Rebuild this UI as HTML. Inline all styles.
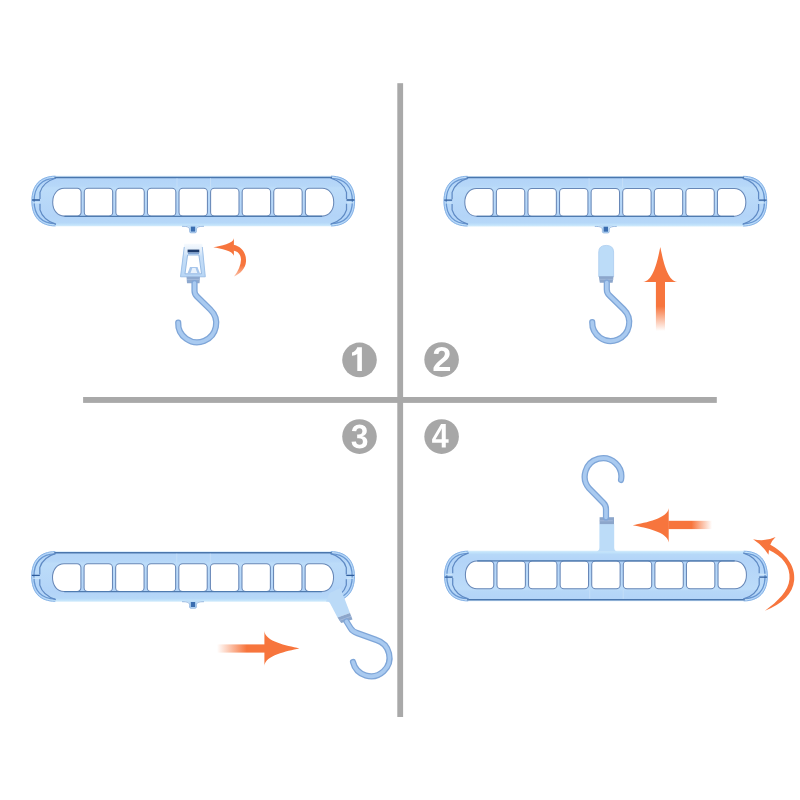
<!DOCTYPE html>
<html><head><meta charset="utf-8">
<style>
html,body{margin:0;padding:0;background:#fff;width:800px;height:800px;overflow:hidden}
svg{display:block}
</style></head>
<body>
<svg width="800" height="800" viewBox="0 0 800 800">
<defs>
  <linearGradient id="bodyG" gradientUnits="userSpaceOnUse" x1="0" y1="0" x2="0" y2="50.5">
    <stop offset="0" stop-color="#d8ecfb"/>
    <stop offset="0.02" stop-color="#cfe6fa"/>
    <stop offset="0.05" stop-color="#b3d4f8"/>
    <stop offset="0.2" stop-color="#b6d7f8"/>
    <stop offset="0.24" stop-color="#bcdcf9"/>
    <stop offset="0.8" stop-color="#b3d4f8"/>
    <stop offset="0.93" stop-color="#b6d8f8"/>
    <stop offset="0.97" stop-color="#c2e3fb"/>
    <stop offset="1" stop-color="#d4ecfb"/>
  </linearGradient>
  <linearGradient id="fadeR" x1="0" y1="0" x2="1" y2="0">
    <stop offset="0" stop-color="#f7753d" stop-opacity="0"/>
    <stop offset="0.62" stop-color="#f7753d" stop-opacity="1"/>
  </linearGradient>
  <linearGradient id="fadeL" x1="1" y1="0" x2="0" y2="0">
    <stop offset="0" stop-color="#f7753d" stop-opacity="0"/>
    <stop offset="0.47" stop-color="#f7753d" stop-opacity="1"/>
  </linearGradient>
  <linearGradient id="fadeU" x1="0" y1="1" x2="0" y2="0">
    <stop offset="0" stop-color="#f7753d" stop-opacity="0"/>
    <stop offset="0.5" stop-color="#f7753d" stop-opacity="1"/>
  </linearGradient>
  <linearGradient id="tailG1" x1="0" y1="0" x2="0" y2="1">
    <stop offset="0.65" stop-color="#f7753d" stop-opacity="1"/>
    <stop offset="1" stop-color="#f7753d" stop-opacity="0.45"/>
  </linearGradient>
  <linearGradient id="tailG4" x1="0" y1="0" x2="0" y2="1">
    <stop offset="0.6" stop-color="#f7753d" stop-opacity="1"/>
    <stop offset="1" stop-color="#f7753d" stop-opacity="0.3"/>
  </linearGradient>
  <linearGradient id="clipTop" x1="0" y1="0" x2="0" y2="1">
    <stop offset="0" stop-color="#f6fafe"/>
    <stop offset="0.2" stop-color="#e2eefb"/>
    <stop offset="0.4" stop-color="#c4ddf7"/>
    <stop offset="1" stop-color="#b8d6f5"/>
  </linearGradient>
  
    <path d="M35,40.2 H289" stroke="#6690ca" stroke-width="1.1" fill="none"/>
    <path d="M145.5,1.5 V11.5 M179,1.5 V11.5" stroke="#c3dcf7" stroke-width="0.8"/>
  </g>
  
</defs>

<!-- divider lines -->
<rect x="397.3" y="83.2" width="5.8" height="633.8" fill="#a9a9a9"/>
<rect x="83.1" y="397" width="633.7" height="5.9" fill="#a9a9a9"/>

<!-- number circles -->
<g fill="#a7a7a7">
  <circle cx="359.5" cy="359.9" r="17.3"/>
  <circle cx="441.6" cy="359.6" r="17.3"/>
  <circle cx="359.5" cy="436.6" r="17.3"/>
  <circle cx="441.6" cy="436.6" r="17.3"/>
</g>
<g fill="#fff">
  <path d="M357.3,347.2 H361.9 V370.9 H357.3 V353.9 C355.9,354.8 354.1,355.4 352,355.8 V352.5 C354.5,351.7 356.5,349.8 357.3,347.2 Z"/>
  <path d="M433.5 371V367.73Q434.42 365.7 436.13 363.77Q437.83 361.84 440.41 359.74Q442.9 357.73 443.9 356.42Q444.89 355.11 444.89 353.85Q444.89 350.76 441.79 350.76Q440.28 350.76 439.48 351.58Q438.69 352.39 438.45 354.02L433.7 353.75Q434.1 350.46 436.16 348.73Q438.22 347 441.76 347Q445.58 347 447.63 348.75Q449.68 350.49 449.68 353.65Q449.68 355.31 449.02 356.65Q448.37 358 447.34 359.13Q446.32 360.26 445.07 361.25Q443.82 362.24 442.65 363.18Q441.47 364.12 440.51 365.08Q439.54 366.03 439.07 367.12H450.05V371Z"/>
<path d="M367.39 441.68Q367.39 444.93 365.36 446.7Q363.33 448.48 359.59 448.48Q356.04 448.48 353.95 446.76Q351.86 445.04 351.5 441.81L355.96 441.4Q356.39 444.73 359.57 444.73Q361.15 444.73 362.02 443.91Q362.89 443.09 362.89 441.4Q362.89 439.85 361.83 439.03Q360.77 438.21 358.68 438.21H357.15V434.48H358.59Q360.47 434.48 361.43 433.67Q362.38 432.85 362.38 431.34Q362.38 429.91 361.62 429.1Q360.87 428.29 359.41 428.29Q358.06 428.29 357.22 429.07Q356.39 429.86 356.26 431.31L351.87 430.98Q352.22 427.99 354.23 426.3Q356.24 424.61 359.49 424.61Q362.94 424.61 364.88 426.24Q366.83 427.87 366.83 430.77Q366.83 432.94 365.62 434.33Q364.41 435.73 362.13 436.19V436.25Q364.66 436.57 366.02 438Q367.39 439.44 367.39 441.68Z"/>
<path d="M445.77 442.73V447.5H441.74V442.73H432.1V439.23L441.05 424.1H445.77V439.26H448.6V442.73ZM441.74 431.6Q441.74 430.71 441.79 429.66Q441.85 428.61 441.88 428.32Q441.48 429.25 440.46 431.01L435.54 439.26H441.74Z"/>

</g>

<!-- Q1 -->
<g transform="translate(31.5,175.8)">
    <path d="M24,0 H299.5 C314.86,0 323.5,9.09 323.5,25.25 C323.5,41.41 314.86,50.5 299.5,50.5 H24 C8.64,50.5 0,41.41 0,25.25 C0,9.09 8.64,0 24,0 Z" fill="url(#bodyG)"/>
    <path d="M24.00,0.40 C8.90,0.40 0.40,9.35 0.40,25.25 C0.40,41.15 8.90,50.10 24.00,50.10 M299.50,0.40 C314.60,0.40 323.10,9.35 323.10,25.25 C323.10,41.15 314.60,50.10 299.50,50.10" fill="none" stroke="#86b2e6" stroke-width="1"/>
    <path d="M24.00,2.65 C10.30,2.65 2.60,10.79 2.60,25.25 C2.60,39.71 10.30,47.85 24.00,47.85 M299.50,2.65 C313.20,2.65 320.90,10.79 320.90,25.25 C320.90,39.71 313.20,47.85 299.50,47.85" fill="none" stroke="#6897d2" stroke-width="1.3"/>
    <path d="M23,1.6 H300.5" stroke="#4a76ad" stroke-width="1.5" fill="none"/>
    <!-- ridges -->
    <path d="M24.5,2.2 C17,4.5 10.5,9.5 8.5,16.5 V23.3 M8.5,28 V34 C10.5,41 17,46 24.5,48.5" fill="none" stroke="#5f8ac4" stroke-width="1.25"/>
    <path d="M299,2.2 C306.5,4.5 313,9.5 315,16.5 V23.3 M315,28 V34 C313,41 306.5,46 299,48.5" fill="none" stroke="#5f8ac4" stroke-width="1.25"/>
    <path d="M0.6,24.2 H8.5 M322.9,24.2 H315" stroke="#2f5c9b" stroke-width="1.3"/>
    <path d="M1.5,27 H8 M322,27 H315.5" stroke="#d2eafb" stroke-width="1"/>
    <!-- holes -->
    <g fill="#fff" stroke="#6787b7" stroke-width="1.05">
      <path d="M32.70,12.5 H45.80 A3.8,3.8 0 0 1 49.60,16.3 V36.5 A3.8,3.8 0 0 1 45.80,40.3 H32.70 C26.03,40.3 21.20,34.46 21.20,26.40 C21.20,18.34 26.03,12.5 32.70,12.5 Z"/>
      <rect x="52.78" y="12.5" width="28.4" height="27.8" rx="3.8"/>
      <rect x="84.36" y="12.5" width="28.4" height="27.8" rx="3.8"/>
      <rect x="115.94" y="12.5" width="28.4" height="27.8" rx="3.8"/>
      <rect x="147.52" y="12.5" width="28.4" height="27.8" rx="3.8"/>
      <rect x="179.10" y="12.5" width="28.4" height="27.8" rx="3.8"/>
      <rect x="210.68" y="12.5" width="28.4" height="27.8" rx="3.8"/>
      <rect x="242.26" y="12.5" width="28.4" height="27.8" rx="3.8"/>
      <path d="M290.74,12.5 H277.64 A3.8,3.8 0 0 0 273.84,16.3 V36.5 A3.8,3.8 0 0 0 277.64,40.3 H290.74 C297.41,40.3 302.24,34.46 302.24,26.40 C302.24,18.34 297.41,12.5 290.74,12.5 Z"/>
    </g>
    <path d="M33,40.5 H290.5" stroke="#4f7bb0" stroke-width="1.2" fill="none"/>
    <path d="M145.5,2.5 V11.5 M179,2.5 V11.5" stroke="#c8e0f8" stroke-width="0.8"/>
  </g>
<g transform="translate(193,226.2)">
    <path d="M-11,-1.2 C-5,-1.2 -3.4,0.5 -3.4,4 V5.3 Q-3.4,6.6 -2,6.6 H2 Q3.4,6.6 3.4,5.3 V4 C3.4,0.5 5,-1.2 11,-1.2 Z" fill="#bcdcf8"/>
    <path d="M-11,0.1 C-5,0.1 -3.4,0.9 -3.4,4 V5.3 Q-3.4,6.6 -2,6.6 H2 Q3.4,6.6 3.4,5.3 V4 C3.4,0.9 5,0.1 11,0.1" fill="none" stroke="#8fb2de" stroke-width="0.9"/>
    <rect x="-2.2" y="0.4" width="4.4" height="5" fill="#3a6db0"/>
  </g>
<!-- clip -->
<path d="M184.3,243.8 L202.3,243.8 L205.3,276.8 L180.5,276.8 Z" fill="url(#clipTop)"/>
<path d="M184.3,247 L180.5,276.8 L205.3,276.8 L202.3,247" fill="none" stroke="#98bce5" stroke-width="0.9"/>
<path d="M187.6,255 L198.9,255 L201.5,273.8 L185,273.8 Z" fill="#fff" stroke="#8fb4e0" stroke-width="0.9"/>
<rect x="187.6" y="249.6" width="11.7" height="2.9" fill="#1e3c6d"/>
<rect x="188" y="252.5" width="11" height="1.6" fill="#7fa3d4"/>
<path d="M187.5,273.6 L190,267 L197.5,267 L200,273.6 Z" fill="#a7c6ec"/>
<path d="M190.5,273 L192.3,268 L195.5,268 L197.3,273 Z" fill="#e9f2fc"/>
<path d="M186.5,276.8 H200 L199.5,283.3 H187 Z" fill="#8ea9cf"/>
<path d="M187,279.5 H199.6" stroke="#a6bddd" stroke-width="0.8"/>
<!-- hook Q1 -->
<g fill="none" stroke-linecap="round">
<path d="M194.5,283 V291 Q194.5,294 197,296.5 L210.4,309.6 A19,19 0 1 1 178.2,322.5" stroke="#7fa6d8" stroke-width="6.2"/>
<path d="M194.5,283 V291 Q194.5,294 197,296.5 L210.4,309.6 A19,19 0 1 1 178.2,322.5" stroke="#a9caf0" stroke-width="3.6"/>
</g>
<!-- arrow Q1 -->
<path d="M213.3,247.2 C220.95,248.60 233.31,250.69 233.90,256.15 L233.90,238.25 C233.31,243.71 220.95,245.80 213.3,247.2 Z" fill="#f7753d"/>
<path d="M233.2,244.8 C241.8,246.5 246.5,253 246,261.5 C245.5,268 241,273.5 234,276.5 C238.5,271 240.8,265 241,259.5 C240.8,254.5 238,251.3 233.2,250.5 Z" fill="url(#tailG1)"/>

<!-- Q2 -->
<g transform="translate(443.6,175.9)">
    <path d="M24,0 H299.5 C314.86,0 323.5,9.09 323.5,25.25 C323.5,41.41 314.86,50.5 299.5,50.5 H24 C8.64,50.5 0,41.41 0,25.25 C0,9.09 8.64,0 24,0 Z" fill="url(#bodyG)"/>
    <path d="M24.00,0.40 C8.90,0.40 0.40,9.35 0.40,25.25 C0.40,41.15 8.90,50.10 24.00,50.10 M299.50,0.40 C314.60,0.40 323.10,9.35 323.10,25.25 C323.10,41.15 314.60,50.10 299.50,50.10" fill="none" stroke="#86b2e6" stroke-width="1"/>
    <path d="M24.00,2.65 C10.30,2.65 2.60,10.79 2.60,25.25 C2.60,39.71 10.30,47.85 24.00,47.85 M299.50,2.65 C313.20,2.65 320.90,10.79 320.90,25.25 C320.90,39.71 313.20,47.85 299.50,47.85" fill="none" stroke="#6897d2" stroke-width="1.3"/>
    <path d="M23,1.6 H300.5" stroke="#4a76ad" stroke-width="1.5" fill="none"/>
    <!-- ridges -->
    <path d="M24.5,2.2 C17,4.5 10.5,9.5 8.5,16.5 V23.3 M8.5,28 V34 C10.5,41 17,46 24.5,48.5" fill="none" stroke="#5f8ac4" stroke-width="1.25"/>
    <path d="M299,2.2 C306.5,4.5 313,9.5 315,16.5 V23.3 M315,28 V34 C313,41 306.5,46 299,48.5" fill="none" stroke="#5f8ac4" stroke-width="1.25"/>
    <path d="M0.6,24.2 H8.5 M322.9,24.2 H315" stroke="#2f5c9b" stroke-width="1.3"/>
    <path d="M1.5,27 H8 M322,27 H315.5" stroke="#d2eafb" stroke-width="1"/>
    <!-- holes -->
    <g fill="#fff" stroke="#6787b7" stroke-width="1.05">
      <path d="M32.70,12.5 H45.80 A3.8,3.8 0 0 1 49.60,16.3 V36.5 A3.8,3.8 0 0 1 45.80,40.3 H32.70 C26.03,40.3 21.20,34.46 21.20,26.40 C21.20,18.34 26.03,12.5 32.70,12.5 Z"/>
      <rect x="52.78" y="12.5" width="28.4" height="27.8" rx="3.8"/>
      <rect x="84.36" y="12.5" width="28.4" height="27.8" rx="3.8"/>
      <rect x="115.94" y="12.5" width="28.4" height="27.8" rx="3.8"/>
      <rect x="147.52" y="12.5" width="28.4" height="27.8" rx="3.8"/>
      <rect x="179.10" y="12.5" width="28.4" height="27.8" rx="3.8"/>
      <rect x="210.68" y="12.5" width="28.4" height="27.8" rx="3.8"/>
      <rect x="242.26" y="12.5" width="28.4" height="27.8" rx="3.8"/>
      <path d="M290.74,12.5 H277.64 A3.8,3.8 0 0 0 273.84,16.3 V36.5 A3.8,3.8 0 0 0 277.64,40.3 H290.74 C297.41,40.3 302.24,34.46 302.24,26.40 C302.24,18.34 297.41,12.5 290.74,12.5 Z"/>
    </g>
    <path d="M33,40.5 H290.5" stroke="#4f7bb0" stroke-width="1.2" fill="none"/>
    <path d="M145.5,2.5 V11.5 M179,2.5 V11.5" stroke="#c8e0f8" stroke-width="0.8"/>
  </g>
<g transform="translate(605.8,226.3)">
    <path d="M-11,-1.2 C-5,-1.2 -3.4,0.5 -3.4,4 V5.3 Q-3.4,6.6 -2,6.6 H2 Q3.4,6.6 3.4,5.3 V4 C3.4,0.5 5,-1.2 11,-1.2 Z" fill="#bcdcf8"/>
    <path d="M-11,0.1 C-5,0.1 -3.4,0.9 -3.4,4 V5.3 Q-3.4,6.6 -2,6.6 H2 Q3.4,6.6 3.4,5.3 V4 C3.4,0.9 5,0.1 11,0.1" fill="none" stroke="#8fb2de" stroke-width="0.9"/>
    <rect x="-2.2" y="0.4" width="4.4" height="5" fill="#3a6db0"/>
  </g>
<path d="M598.75,276.5 V252 Q598.75,245.4 606.2,245.4 Q613.6,245.4 613.6,252 V276.5 Z" fill="#bcdcf8" stroke="#a9cbef" stroke-width="0.8"/>
<path d="M598.8,276.2 H613.6 L612.6,282.8 H599.8 Z" fill="#8ca6cb"/>
<path d="M599.5,279.3 H613.3" stroke="#a6bddd" stroke-width="0.8"/>
<g fill="none" stroke-linecap="round">
<path d="M606.8,282.6 V289.5 Q606.8,293 609.5,295.5 L623.6,309.2 A18.5,18.5 0 1 1 592.2,322" stroke="#7fa6d8" stroke-width="6.2"/>
<path d="M606.8,282.6 V289.5 Q606.8,293 609.5,295.5 L623.6,309.2 A18.5,18.5 0 1 1 592.2,322" stroke="#a9caf0" stroke-width="3.6"/>
</g>
<path d="M660.3,247 C657.60,260.00 653.60,281.00 643.10,282.00 L677.50,282.00 C667.00,281.00 663.00,260.00 660.3,247 Z" fill="#f7753d"/>
<rect x="655.9" y="281.5" width="9.1" height="49.5" fill="url(#fadeU)"/>

<!-- Q3 -->
<g transform="translate(31.3,551.2)">
    <path d="M24,0 H299.5 C314.86,0 323.5,9.09 323.5,25.25 C323.5,41.41 314.86,50.5 299.5,50.5 H24 C8.64,50.5 0,41.41 0,25.25 C0,9.09 8.64,0 24,0 Z" fill="url(#bodyG)"/>
    <path d="M24.00,0.40 C8.90,0.40 0.40,9.35 0.40,25.25 C0.40,41.15 8.90,50.10 24.00,50.10 M299.50,0.40 C314.60,0.40 323.10,9.35 323.10,25.25 C323.10,41.15 314.60,50.10 299.50,50.10" fill="none" stroke="#86b2e6" stroke-width="1"/>
    <path d="M24.00,2.65 C10.30,2.65 2.60,10.79 2.60,25.25 C2.60,39.71 10.30,47.85 24.00,47.85 M299.50,2.65 C313.20,2.65 320.90,10.79 320.90,25.25 C320.90,39.71 313.20,47.85 299.50,47.85" fill="none" stroke="#6897d2" stroke-width="1.3"/>
    <path d="M23,1.6 H300.5" stroke="#4a76ad" stroke-width="1.5" fill="none"/>
    <!-- ridges -->
    <path d="M24.5,2.2 C17,4.5 10.5,9.5 8.5,16.5 V23.3 M8.5,28 V34 C10.5,41 17,46 24.5,48.5" fill="none" stroke="#5f8ac4" stroke-width="1.25"/>
    <path d="M299,2.2 C306.5,4.5 313,9.5 315,16.5 V23.3 M315,28 V34 C313,41 306.5,46 299,48.5" fill="none" stroke="#5f8ac4" stroke-width="1.25"/>
    <path d="M0.6,24.2 H8.5 M322.9,24.2 H315" stroke="#2f5c9b" stroke-width="1.3"/>
    <path d="M1.5,27 H8 M322,27 H315.5" stroke="#d2eafb" stroke-width="1"/>
    <!-- holes -->
    <g fill="#fff" stroke="#6787b7" stroke-width="1.05">
      <path d="M32.70,12.5 H45.80 A3.8,3.8 0 0 1 49.60,16.3 V36.5 A3.8,3.8 0 0 1 45.80,40.3 H32.70 C26.03,40.3 21.20,34.46 21.20,26.40 C21.20,18.34 26.03,12.5 32.70,12.5 Z"/>
      <rect x="52.78" y="12.5" width="28.4" height="27.8" rx="3.8"/>
      <rect x="84.36" y="12.5" width="28.4" height="27.8" rx="3.8"/>
      <rect x="115.94" y="12.5" width="28.4" height="27.8" rx="3.8"/>
      <rect x="147.52" y="12.5" width="28.4" height="27.8" rx="3.8"/>
      <rect x="179.10" y="12.5" width="28.4" height="27.8" rx="3.8"/>
      <rect x="210.68" y="12.5" width="28.4" height="27.8" rx="3.8"/>
      <rect x="242.26" y="12.5" width="28.4" height="27.8" rx="3.8"/>
      <path d="M290.74,12.5 H277.64 A3.8,3.8 0 0 0 273.84,16.3 V36.5 A3.8,3.8 0 0 0 277.64,40.3 H290.74 C297.41,40.3 302.24,34.46 302.24,26.40 C302.24,18.34 297.41,12.5 290.74,12.5 Z"/>
    </g>
    <path d="M33,40.5 H290.5" stroke="#4f7bb0" stroke-width="1.2" fill="none"/>
    <path d="M145.5,2.5 V11.5 M179,2.5 V11.5" stroke="#c8e0f8" stroke-width="0.8"/>
  </g>
<g transform="translate(193,601.6)">
    <path d="M-11,-1.2 C-5,-1.2 -3.4,0.5 -3.4,4 V5.3 Q-3.4,6.6 -2,6.6 H2 Q3.4,6.6 3.4,5.3 V4 C3.4,0.5 5,-1.2 11,-1.2 Z" fill="#bcdcf8"/>
    <path d="M-11,0.1 C-5,0.1 -3.4,0.9 -3.4,4 V5.3 Q-3.4,6.6 -2,6.6 H2 Q3.4,6.6 3.4,5.3 V4 C3.4,0.9 5,0.1 11,0.1" fill="none" stroke="#8fb2de" stroke-width="0.9"/>
    <rect x="-2.2" y="0.4" width="4.4" height="5" fill="#3a6db0"/>
  </g>
<path d="M329.5,593 L340.5,588 L350,613 L337.5,617.5 L329.8,602.8 Q328.8,601.5 326,601.5 Z" fill="#bbdaf7"/>
<path d="M337.5,617.5 L350,613 L352.5,619.4 L341.2,623.1 Z" fill="#8ca6cb"/>
<path d="M339.3,620.5 L351.2,616.3" stroke="#a9bfdf" stroke-width="0.8"/>
<g fill="none" stroke-linecap="round">
<path d="M346.5,621.5 L350.5,628 Q352.5,631.5 357,633 L376.4,640 A18.5,18.5 0 1 1 353,662" stroke="#7fa6d8" stroke-width="6.2"/>
<path d="M346.5,621.5 L350.5,628 Q352.5,631.5 357,633 L376.4,640 A18.5,18.5 0 1 1 353,662" stroke="#a9caf0" stroke-width="3.6"/>
</g>
<path d="M299.4,648.4 C286.40,645.68 265.40,641.66 264.40,631.10 L264.40,665.70 C265.40,655.14 286.40,651.12 299.4,648.4 Z" fill="#f7753d"/>
<rect x="217" y="644.4" width="48" height="8.2" fill="url(#fadeR)"/>

<!-- Q4 -->
<g transform="translate(444.2,601.3) scale(1,-1)">
    <path d="M24,0 H299.5 C314.86,0 323.5,9.09 323.5,25.25 C323.5,41.41 314.86,50.5 299.5,50.5 H24 C8.64,50.5 0,41.41 0,25.25 C0,9.09 8.64,0 24,0 Z" fill="url(#bodyG)"/>
    <path d="M24.00,0.40 C8.90,0.40 0.40,9.35 0.40,25.25 C0.40,41.15 8.90,50.10 24.00,50.10 M299.50,0.40 C314.60,0.40 323.10,9.35 323.10,25.25 C323.10,41.15 314.60,50.10 299.50,50.10" fill="none" stroke="#86b2e6" stroke-width="1"/>
    <path d="M24.00,2.65 C10.30,2.65 2.60,10.79 2.60,25.25 C2.60,39.71 10.30,47.85 24.00,47.85 M299.50,2.65 C313.20,2.65 320.90,10.79 320.90,25.25 C320.90,39.71 313.20,47.85 299.50,47.85" fill="none" stroke="#6897d2" stroke-width="1.3"/>
    <path d="M23,1.6 H300.5" stroke="#4a76ad" stroke-width="1.5" fill="none"/>
    <!-- ridges -->
    <path d="M24.5,2.2 C17,4.5 10.5,9.5 8.5,16.5 V23.3 M8.5,28 V34 C10.5,41 17,46 24.5,48.5" fill="none" stroke="#5f8ac4" stroke-width="1.25"/>
    <path d="M299,2.2 C306.5,4.5 313,9.5 315,16.5 V23.3 M315,28 V34 C313,41 306.5,46 299,48.5" fill="none" stroke="#5f8ac4" stroke-width="1.25"/>
    <path d="M0.6,24.2 H8.5 M322.9,24.2 H315" stroke="#2f5c9b" stroke-width="1.3"/>
    <path d="M1.5,27 H8 M322,27 H315.5" stroke="#d2eafb" stroke-width="1"/>
    <!-- holes -->
    <g fill="#fff" stroke="#6787b7" stroke-width="1.05">
      <path d="M32.70,12.5 H45.80 A3.8,3.8 0 0 1 49.60,16.3 V36.5 A3.8,3.8 0 0 1 45.80,40.3 H32.70 C26.03,40.3 21.20,34.46 21.20,26.40 C21.20,18.34 26.03,12.5 32.70,12.5 Z"/>
      <rect x="52.78" y="12.5" width="28.4" height="27.8" rx="3.8"/>
      <rect x="84.36" y="12.5" width="28.4" height="27.8" rx="3.8"/>
      <rect x="115.94" y="12.5" width="28.4" height="27.8" rx="3.8"/>
      <rect x="147.52" y="12.5" width="28.4" height="27.8" rx="3.8"/>
      <rect x="179.10" y="12.5" width="28.4" height="27.8" rx="3.8"/>
      <rect x="210.68" y="12.5" width="28.4" height="27.8" rx="3.8"/>
      <rect x="242.26" y="12.5" width="28.4" height="27.8" rx="3.8"/>
      <path d="M290.74,12.5 H277.64 A3.8,3.8 0 0 0 273.84,16.3 V36.5 A3.8,3.8 0 0 0 277.64,40.3 H290.74 C297.41,40.3 302.24,34.46 302.24,26.40 C302.24,18.34 297.41,12.5 290.74,12.5 Z"/>
    </g>
    <path d="M33,40.5 H290.5" stroke="#4f7bb0" stroke-width="1.2" fill="none"/>
    <path d="M145.5,2.5 V11.5 M179,2.5 V11.5" stroke="#c8e0f8" stroke-width="0.8"/>
  </g>
<path d="M596.5,551.5 Q599.4,550.8 599.4,547.5 V524 H614.2 V547.5 Q614.2,550.8 617,551.5 Z" fill="#bcdcf8"/>
<path d="M599.6,517.2 H614 V524.1 H599.6 Z" fill="#8ca6cb"/>
<path d="M599.7,520.8 H612.8" stroke="#a9bfdf" stroke-width="0.8"/>
<g fill="none" stroke-linecap="round">
<path d="M606,517.5 V509 Q606,505.5 603.5,503 L589.2,488.5 A18.3,18.3 0 1 1 621,480" stroke="#7fa6d8" stroke-width="6.2"/>
<path d="M606,517.5 V509 Q606,505.5 603.5,503 L589.2,488.5 A18.3,18.3 0 1 1 621,480" stroke="#a9caf0" stroke-width="3.6"/>
</g>
<path d="M632.7,525.3 C646.07,528.00 667.67,532.00 668.70,542.50 L668.70,508.10 C667.67,518.60 646.07,522.60 632.7,525.3 Z" fill="#f7753d"/>
<rect x="668.3" y="520.8" width="43.7" height="8.3" fill="url(#fadeL)"/>
<path d="M753.1,539.25 Q765,542 775.6,536.9 Q768.5,543.5 768.5,554.7 Q762,545 753.1,539.25 Z" fill="#f7753d"/>
<path d="M769,544 C786,553 795.5,566 794.2,580 C793,594 782,604 765,610.8 C778,601 788.5,591 789.5,579 C790.5,567 783,556 768,549.5 Z" fill="#f7753d"/>
</svg>
</body></html>
